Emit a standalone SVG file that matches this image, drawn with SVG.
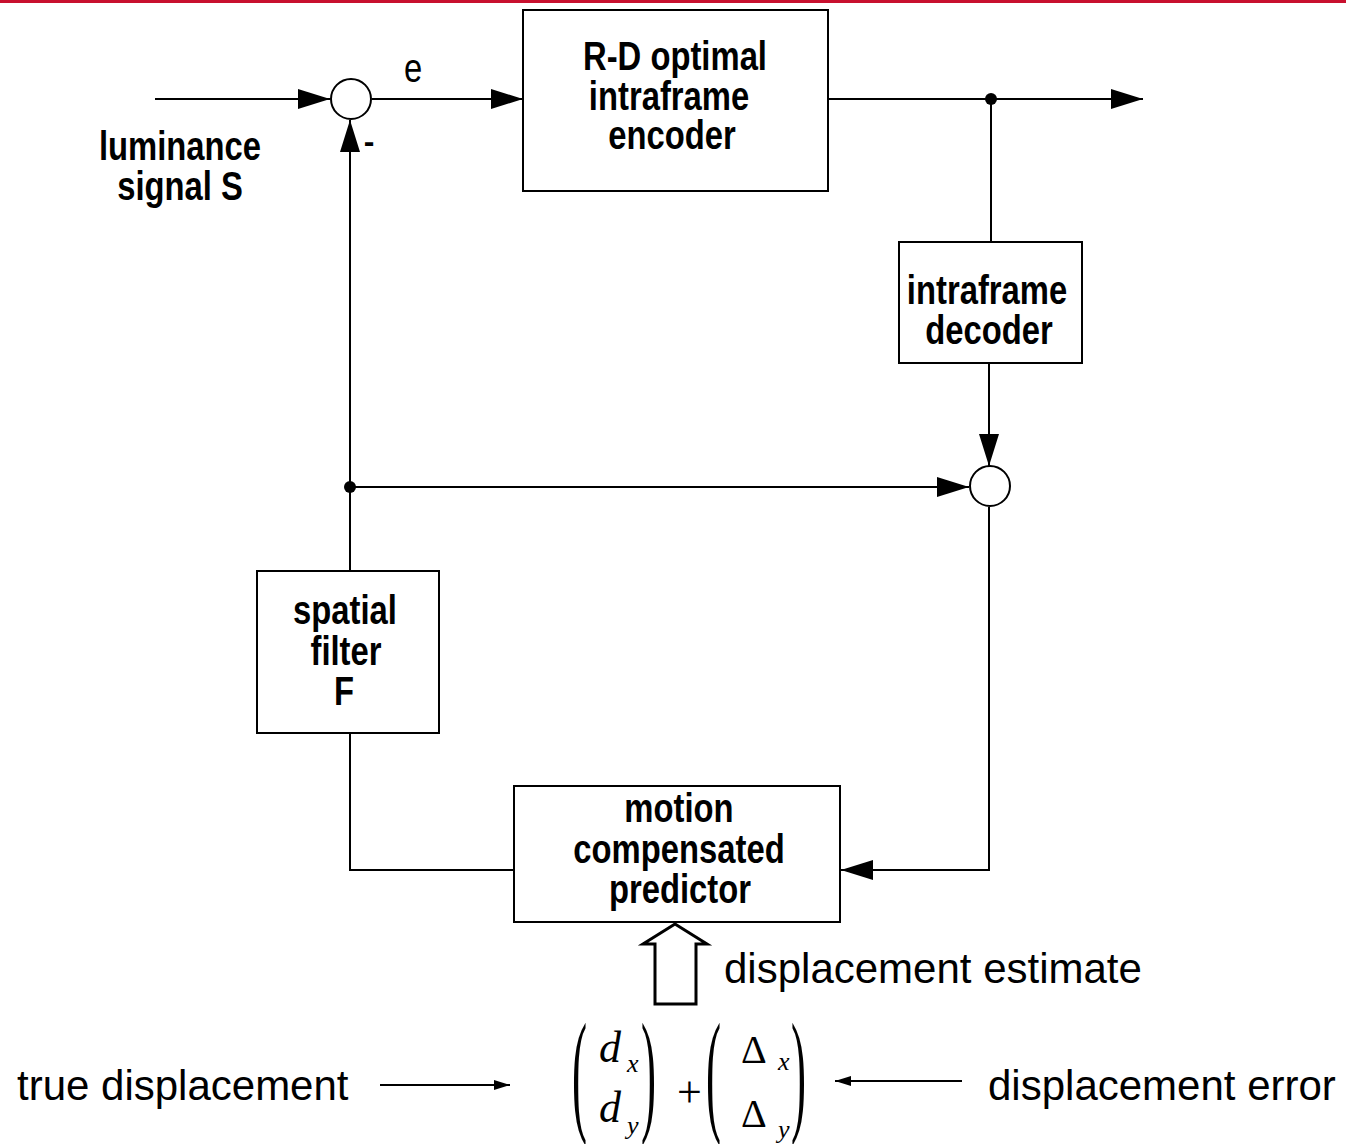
<svg xmlns="http://www.w3.org/2000/svg" width="1346" height="1144" viewBox="0 0 1346 1144">
<style>
.box{fill:#fff;stroke:#000;stroke-width:2}
.ln{fill:none;stroke:#000;stroke-width:2}
.lbl{font-family:"Liberation Sans",Arial,sans-serif;font-weight:bold;font-size:40px;text-anchor:middle;fill:#000}
.reg{font-family:"Liberation Sans",Arial,sans-serif;font-size:42px;fill:#000}
.math{font-family:"Liberation Serif","Times New Roman",serif;fill:#000}
</style>
<defs>
<marker id="ah" viewBox="0 0 32 20" refX="32" refY="10" markerWidth="32" markerHeight="20" markerUnits="userSpaceOnUse" orient="auto">
<path d="M0,0 L32,10 L0,20 Z" fill="#000"/>
</marker>
<marker id="sa" viewBox="0 0 16 10" refX="16" refY="5" markerWidth="16" markerHeight="10" markerUnits="userSpaceOnUse" orient="auto">
<path d="M0,0 L16,5 L0,10 Z" fill="#000"/>
</marker>
</defs>
<rect x="0" y="0" width="1346" height="3" fill="#c8102e"/>

<g id="connectors">
<line class="ln" x1="155" y1="99" x2="330" y2="99" marker-end="url(#ah)"/>
<line class="ln" x1="372" y1="99" x2="523" y2="99" marker-end="url(#ah)"/>
<line class="ln" x1="828" y1="99" x2="1143" y2="99" marker-end="url(#ah)"/>
<line class="ln" x1="991" y1="99" x2="991" y2="242"/>
<line class="ln" x1="989" y1="363" x2="989" y2="466" marker-end="url(#ah)"/>
<line class="ln" x1="350" y1="487" x2="969" y2="487" marker-end="url(#ah)"/>
<line class="ln" x1="350" y1="571" x2="350" y2="120" marker-end="url(#ah)"/>
<polyline class="ln" points="350,733 350,870 514,870"/>
<polyline class="ln" points="989,507 989,870 841,870" marker-end="url(#ah)"/>
<circle cx="991" cy="99" r="6" fill="#000"/>
<circle cx="350" cy="487" r="6" fill="#000"/>
<polygon points="675,924 707,944 696,944 696,1004 655,1004 655,944 643,944" fill="#fff" stroke="#000" stroke-width="3" stroke-linejoin="miter"/>
<line class="ln" x1="380" y1="1085" x2="510" y2="1085" marker-end="url(#sa)"/>
<line class="ln" x1="962" y1="1081" x2="835" y2="1081" marker-end="url(#sa)"/>
</g>

<g id="sum1">
<circle cx="351" cy="99" r="20" fill="#fff" stroke="#000" stroke-width="2"/>
</g>
<g id="sum2">
<circle cx="990" cy="486" r="20" fill="#fff" stroke="#000" stroke-width="2"/>
</g>

<g id="encoder">
<rect class="box" x="523" y="10" width="305" height="181"/>
<text class="lbl" transform="translate(675,70) scale(0.82,1)">R-D optimal</text>
<text class="lbl" transform="translate(669,110) scale(0.82,1)">intraframe</text>
<text class="lbl" transform="translate(672,149) scale(0.82,1)">encoder</text>
</g>

<g id="decoder">
<rect class="box" x="899" y="242" width="183" height="121"/>
<text class="lbl" transform="translate(987,304) scale(0.82,1)">intraframe</text>
<text class="lbl" transform="translate(989,344) scale(0.82,1)">decoder</text>
</g>

<g id="filter">
<rect class="box" x="257" y="571" width="182" height="162"/>
<text class="lbl" transform="translate(345,624) scale(0.82,1)">spatial</text>
<text class="lbl" transform="translate(346,665) scale(0.82,1)">filter</text>
<text class="lbl" transform="translate(344,705) scale(0.82,1)">F</text>
</g>

<g id="predictor">
<rect class="box" x="514" y="786" width="326" height="136"/>
<text class="lbl" transform="translate(679,822) scale(0.82,1)">motion</text>
<text class="lbl" transform="translate(679,863) scale(0.82,1)">compensated</text>
<text class="lbl" transform="translate(680,903) scale(0.82,1)">predictor</text>
</g>

<g id="labels">
<text class="lbl" transform="translate(180,160) scale(0.82,1)">luminance</text>
<text class="lbl" transform="translate(180,200) scale(0.82,1)">signal S</text>
<text class="lbl" transform="translate(413,82) scale(0.82,1)" style="font-weight:normal">e</text>
<text class="lbl" x="369" y="152" style="font-size:32px">-</text>
<text class="reg" x="724" y="983">displacement estimate</text>
<text class="reg" x="17" y="1100">true displacement</text>
<text class="reg" x="988" y="1100">displacement error</text>
</g>

<g id="formula">
<text class="math" font-size="45" transform="translate(572,1117) scale(1,3)">(</text>
<text class="math" font-size="45" transform="translate(641,1117) scale(1,3)">)</text>
<text class="math" font-size="45" transform="translate(706,1117) scale(1,3)">(</text>
<text class="math" font-size="45" transform="translate(791,1117) scale(1,3)">)</text>
<text class="math" x="599" y="1062" font-size="44" font-style="italic">d</text>
<text class="math" x="627" y="1072" font-size="26" font-style="italic">x</text>
<text class="math" x="599" y="1122" font-size="44" font-style="italic">d</text>
<text class="math" x="627" y="1134" font-size="26" font-style="italic">y</text>
<text class="math" x="677" y="1107" font-size="44">+</text>
<text class="math" x="741" y="1063" font-size="40">Δ</text>
<text class="math" x="778" y="1070" font-size="26" font-style="italic">x</text>
<text class="math" x="741" y="1127" font-size="40">Δ</text>
<text class="math" x="778" y="1138" font-size="26" font-style="italic">y</text>
</g>
</svg>
